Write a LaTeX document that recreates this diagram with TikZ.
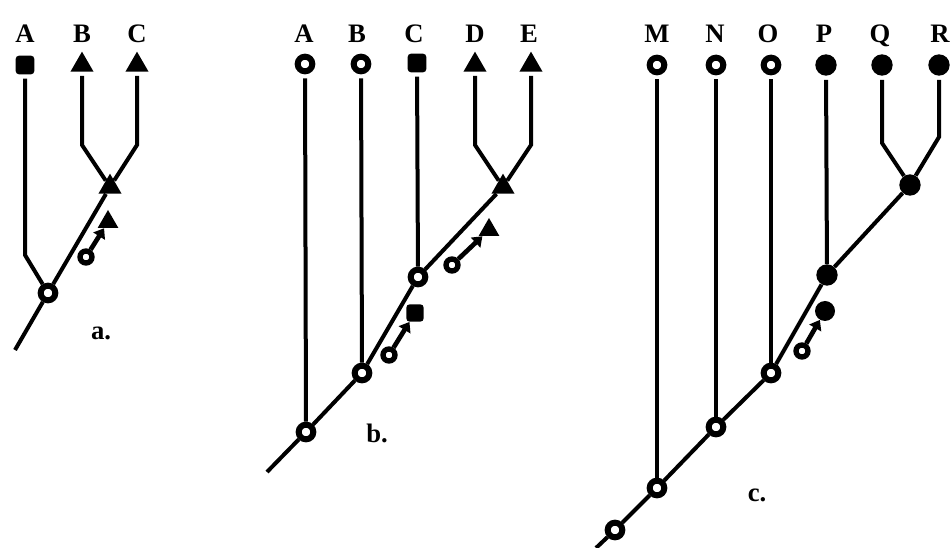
\documentclass[tikz,border=0pt]{standalone}
\usepackage{fontspec}
\setmainfont{Liberation Serif}
\usetikzlibrary{shapes,arrows.meta}
\tikzstyle{op}=[circle,draw=black,line width=4.5pt,fill=white,minimum size=11pt,inner sep=0pt]
\tikzstyle{fc}=[circle,fill=black,minimum size=16pt,inner sep=0pt]
\tikzstyle{sq}=[rectangle,fill=black,rounded corners=2.5pt,minimum size=14pt,inner sep=0pt]
\tikzstyle{tri}=[regular polygon,regular polygon sides=3,fill=black,minimum size=20pt,inner sep=0pt]
\tikzstyle{mop}=[op,line width=4pt,minimum size=9pt]
\tikzstyle{mtri}=[tri,minimum size=18pt]
\tikzstyle{msq}=[sq,minimum size=13pt]
\tikzstyle{mfc}=[fc,minimum size=15pt]
\tikzstyle{lb}=[font=\bfseries\fontsize{20}{24}\selectfont,anchor=base,inner sep=0pt]
\tikzstyle{br}=[line width=3pt]
\tikzstyle{tl}=[br,shorten <=3pt]
\tikzstyle{mk}=[line width=3.5pt,-{Triangle[length=7pt,width=10pt]},shorten <=0pt,shorten >=0pt]

\begin{document}
\begin{tikzpicture}[x=.75pt,y=-.75pt]
\useasboundingbox (0,0) rectangle (950,548);
% a.
\node[lb] (laA) at (25,43) {A};
\node[lb] (laB) at (82,43) {B};
\node[lb] (laC) at (137,43) {C};
\node[sq] (aA) at (25,65) {};
\node[tri] (aB) at (82,65) {};
\node[tri] (aC) at (137,65) {};
\node[op] (a0) at (48,293) {};
\node[tri] (a1) at (110,187) {};
\coordinate (kaA) at (25,255);
\coordinate (kaB) at (82,145);
\coordinate (kaC) at (137,145);
\coordinate (sa) at (15,350);
\draw[tl] (aA) -- (kaA) -- (a0);
\draw[tl] (aB) -- (kaB) -- (a1);
\draw[tl] (aC) -- (kaC) -- (a1);
\draw[br] (a0) -- (a1);
\draw[br] (a0) -- (sa);
\node[mop] (ma1) at (86,257) {};
\node[mtri] (ma2) at (108,222) {};
\draw[mk] (ma1) -- (ma2);
\node[lb] (ta) at (101,340) {a.};
% b.
\node[lb] (lbA) at (304,43) {A};
\node[lb] (lbB) at (357,43) {B};
\node[lb] (lbC) at (414,43) {C};
\node[lb] (lbD) at (475,43) {D};
\node[lb] (lbE) at (529,43) {E};
\node[op] (bA) at (305,64) {};
\node[op] (bB) at (361,64) {};
\node[sq] (bC) at (417,63) {};
\node[tri] (bD) at (475,65) {};
\node[tri] (bE) at (531,65) {};
\node[op] (b0) at (306,432) {};
\node[op] (b1) at (362,373) {};
\node[op] (b2) at (418,277) {};
\node[tri] (b3) at (503,187) {};
\coordinate (kbD) at (475,145);
\coordinate (kbE) at (531,145);
\coordinate (sb) at (267,472);
\draw[tl] (bA) -- (b0);
\draw[tl] (bB) -- (b1);
\draw[tl] (bC) -- (b2);
\draw[tl] (bD) -- (kbD) -- (b3);
\draw[tl] (bE) -- (kbE) -- (b3);
\draw[br] (b0) -- (b1);
\draw[br] (b1) -- (b2);
\draw[br] (b2) -- (b3);
\draw[br] (b0) -- (sb);
\node[mop] (mb1) at (389,355) {};
\node[msq] (mb2) at (415,313) {};
\draw[mk] (mb1) -- (mb2);
\node[mop] (mb3) at (452,265) {};
\node[mtri] (mb4) at (489,230) {};
\draw[mk] (mb3) -- (mb4);
\node[lb] (tb) at (377,443) {b.};
% c.
\node[lb] (lcM) at (657,43) {M};
\node[lb] (lcN) at (715,43) {N};
\node[lb] (lcO) at (768,43) {O};
\node[lb] (lcP) at (824,43) {P};
\node[lb] (lcQ) at (880,43) {Q};
\node[lb] (lcR) at (940,43) {R};
\node[op] (cM) at (657,65) {};
\node[op] (cN) at (716,65) {};
\node[op] (cO) at (771,65) {};
\node[fc] (cP) at (826,65) {};
\node[fc] (cQ) at (882,65) {};
\node[fc] (cR) at (939,65) {};
\node[op] (c0) at (615,530) {};
\node[op] (c1) at (657,488) {};
\node[op] (c2) at (716,427) {};
\node[op] (c3) at (771,373) {};
\node[fc] (c4) at (827,275) {};
\node[fc] (c5) at (910,185) {};
\coordinate (kcQ) at (882,143);
\coordinate (kcR) at (939,137);
\coordinate (sc) at (596,548);
\draw[tl] (cM) -- (c1);
\draw[tl] (cN) -- (c2);
\draw[tl] (cO) -- (c3);
\draw[tl] (cP) -- (c4);
\draw[tl] (cQ) -- (kcQ) -- (c5);
\draw[tl] (cR) -- (kcR) -- (c5);
\draw[br] (c0) -- (c1);
\draw[br] (c1) -- (c2);
\draw[br] (c2) -- (c3);
\draw[br] (c3) -- (c4);
\draw[br] (c4) -- (c5);
\draw[br] (c0) -- (sc);
\node[mop] (mc1) at (802,351) {};
\node[mfc] (mc2) at (825,311) {};
\draw[mk] (mc1) -- (mc2);
\node[lb] (tc) at (757,502) {c.};
\end{tikzpicture}
\end{document}
